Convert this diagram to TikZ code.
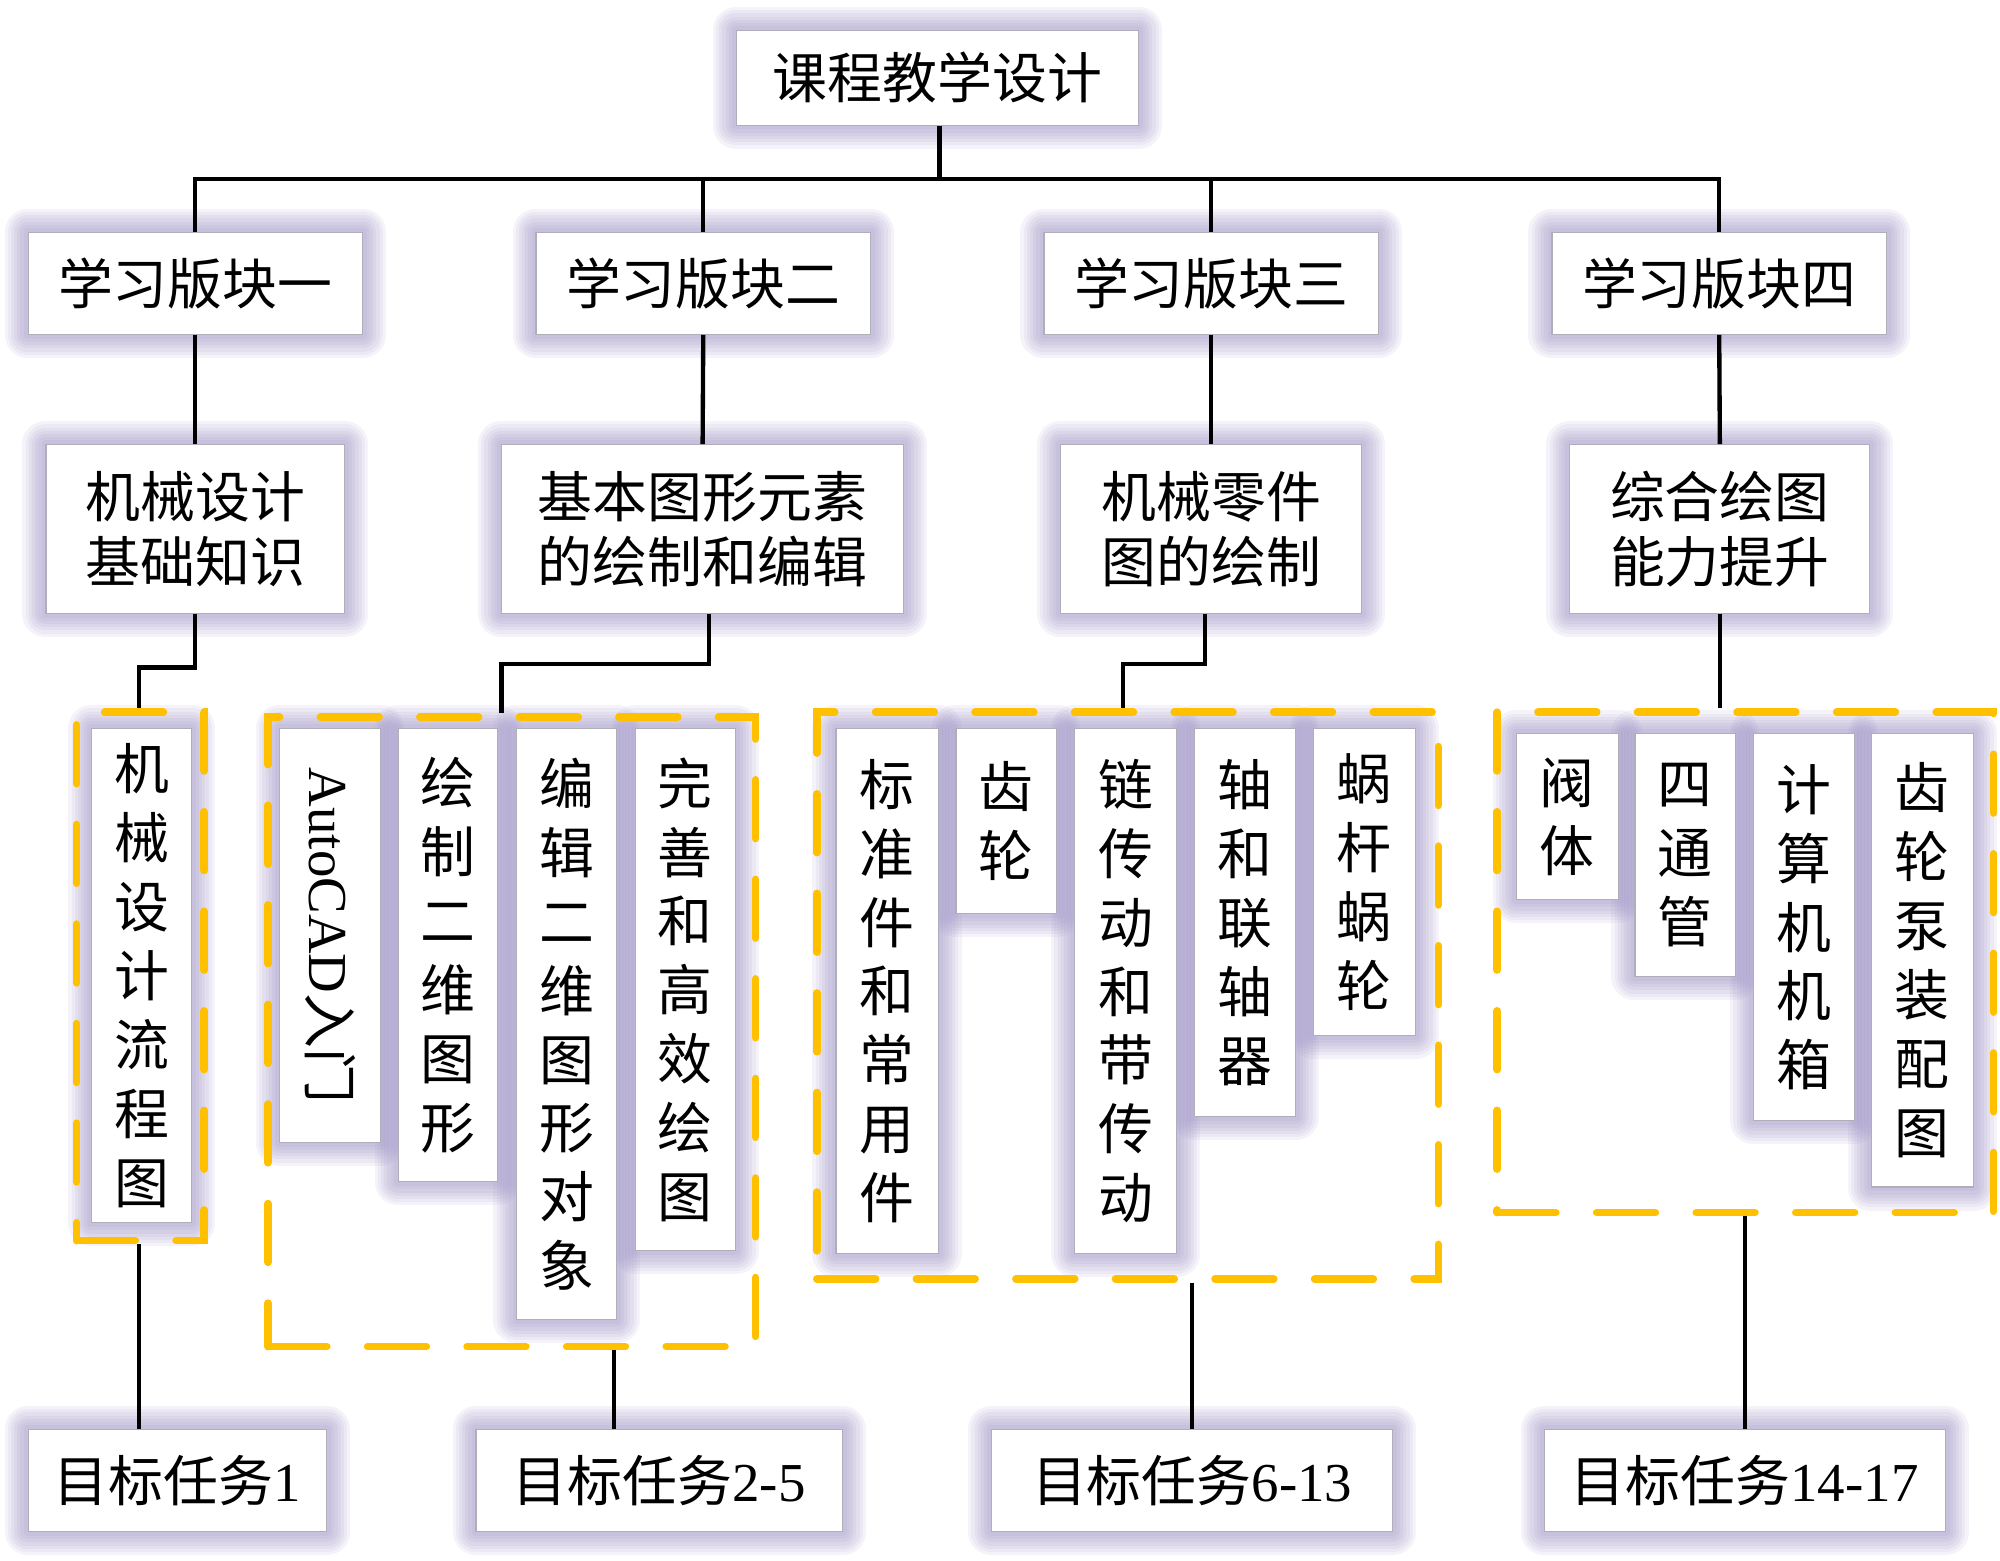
\documentclass[tikz,border=0pt]{standalone}
\usepackage{fontspec}
\setmainfont{Liberation Serif}
\newfontfamily\cjk{Noto Sans CJK SC}
\usetikzlibrary{calc}
\pgfdeclarelayer{glowlayer}
\pgfsetlayers{glowlayer,main}
\definecolor{gold}{RGB}{255,192,0}
\definecolor{glowc}{RGB}{140,126,186}
\definecolor{boxborder}{RGB}{175,175,185}
\tikzset{
  box/.style={draw=boxborder, fill=white, line width=0.9pt, inner sep=0pt, align=center,
    font=\fontsize{43}{51}\selectfont\cjk},
  vbox/.style={box, font=\fontsize{43}{54}\selectfont\cjk},
  gbox/.style={draw=gold, line width=6pt, dash pattern=on 46pt off 32pt, line cap=round, inner sep=0pt},
  conn/.style={draw=black, line width=3.4pt},
  glay/.style={draw=glowc, line join=round, draw opacity=0.09, line width=#1},
  glow/.style={glay=6pt,
    preaction={glay=11pt}, preaction={glay=16pt}, preaction={glay=21pt},
    preaction={glay=26pt}, preaction={glay=31pt}, preaction={glay=36pt}},
}
\begin{document}
\begin{tikzpicture}[x=1pt,y=-1pt]
\useasboundingbox (0,0) rectangle (1567,1223);
% dashed groups
\node[gbox, minimum width=100pt, minimum height=414pt] (g1) at (110,765) {};
\node[gbox, minimum width=382pt, minimum height=493pt] (g2) at (401,808.5) {};
\node[gbox, minimum width=487pt, minimum height=444pt] (g3) at (883.5,780) {};
\node[gbox, minimum width=389pt, minimum height=392pt] (g4) at (1367.5,754) {};
% top
\node[box, minimum width=315pt, minimum height=74pt] (top) at (734.5,61) {课程教学设计};
% level 1
\node[box, minimum width=262pt, minimum height=80pt] (a1) at (153,222) {学习版块一};
\node[box, minimum width=262pt, minimum height=80pt] (a2) at (551,222) {学习版块二};
\node[box, minimum width=262pt, minimum height=80pt] (a3) at (949,222) {学习版块三};
\node[box, minimum width=262pt, minimum height=80pt] (a4) at (1347,222) {学习版块四};
% level 2
\node[box, minimum width=234pt, minimum height=132pt] (m1) at (153,414.5) {机械设计\\基础知识};
\node[box, minimum width=315pt, minimum height=132pt] (m2) at (550.5,414.5) {基本图形元素\\的绘制和编辑};
\node[box, minimum width=236pt, minimum height=132pt] (m3) at (949,414.5) {机械零件\\图的绘制};
\node[box, minimum width=235pt, minimum height=132pt] (m4) at (1347.5,414.5) {综合绘图\\能力提升};
% level 3
\node[vbox, minimum width=78pt, minimum height=387pt] (b11) at (111,764.5) {机\\械\\设\\计\\流\\程\\图};
\node[box, rotate=-90, minimum width=324pt, minimum height=79pt, font=\fontsize{43}{54}\selectfont] (b21) at (258.5,733) {AutoCAD{\cjk 入门}};
\node[vbox, minimum width=78pt, minimum height=355pt] (b22) at (351,748.5) {绘\\制\\二\\维\\图\\形};
\node[vbox, minimum width=78pt, minimum height=463pt] (b23) at (444,802.5) {编\\辑\\二\\维\\图\\形\\对\\象};
\node[vbox, minimum width=78pt, minimum height=409pt] (b24) at (537,775.5) {完\\善\\和\\高\\效\\绘\\图};
\node[vbox, minimum width=80pt, minimum height=411pt] (b31) at (695,776.5) {标\\准\\件\\和\\常\\用\\件};
\node[vbox, minimum width=79pt, minimum height=145pt] (b32) at (788.5,643.5) {齿\\轮};
\node[vbox, minimum width=80pt, minimum height=411pt] (b33) at (882,776.5) {链\\传\\动\\和\\带\\传\\动};
\node[vbox, minimum width=79pt, minimum height=304pt] (b34) at (975.5,723) {轴\\和\\联\\轴\\器};
\node[vbox, minimum width=80pt, minimum height=240pt] (b35) at (1069,691) {蜗\\杆\\蜗\\轮};
\node[vbox, minimum width=80pt, minimum height=130pt] (b41) at (1228,640) {阀\\体};
\node[vbox, minimum width=79pt, minimum height=190pt] (b42) at (1320.5,670) {四\\通\\管};
\node[vbox, minimum width=79pt, minimum height=303pt] (b43) at (1413.5,726.5) {计\\算\\机\\机\\箱};
\node[vbox, minimum width=80pt, minimum height=355pt] (b44) at (1506,752.5) {齿\\轮\\泵\\装\\配\\图};
% targets
\node[box, minimum width=234pt, minimum height=80pt, font=\fontsize{43}{51}\selectfont] (t1) at (139,1160) {{\cjk 目标任务}1};
\node[box, minimum width=287pt, minimum height=80pt, font=\fontsize{43}{51}\selectfont] (t2) at (516.5,1160) {{\cjk 目标任务}2-5};
\node[box, minimum width=314pt, minimum height=80pt, font=\fontsize{43}{51}\selectfont] (t3) at (934,1160) {{\cjk 目标任务}6-13};
\node[box, minimum width=314pt, minimum height=80pt, font=\fontsize{43}{51}\selectfont] (t4) at (1367,1160) {{\cjk 目标任务}14-17};
% glows
\begin{pgfonlayer}{glowlayer}
\foreach \n in {top,a1,a2,a3,a4,m1,m2,m3,m4,b11,b21,b22,b23,b24,b31,b32,b33,b34,b35,b41,b42,b43,b44,t1,t2,t3,t4}
  \draw[glow] (\n.south west) rectangle (\n.north east);
\end{pgfonlayer}
% connectors
\coordinate (hb) at (736,140);
\draw[conn] (top.south -| hb) -- (hb);
\draw[conn] (a1.north) |- (hb) -| (a4.north);
\draw[conn] (a2.north) -- (a2.north |- hb);
\draw[conn] (a3.north) -- (a3.north |- hb);
\foreach \i in {1,2,3,4} \draw[conn] (a\i.south) -- (m\i.north);
\coordinate (j1) at (109,523);
\coordinate (j2) at (393,520);
\coordinate (j3) at (880,520);
\draw[conn] (m1.south) |- (j1) -- (j1 |- g1.north);
\draw[conn] ([xshift=5pt]m2.south) |- (j2) -- (j2 |- g2.north);
\draw[conn] ([xshift=-5pt]m3.south) |- (j3) -- (j3 |- g3.north);
\draw[conn] (m4.south) -- (m4.south |- g4.north);
\coordinate (k1) at (109,1100);
\coordinate (k2) at (481,1100);
\draw[conn] (k1 |- g1.south) -- (k1 |- t1.north);
\draw[conn] (k2 |- g2.south) -- (k2 |- t2.north);
\draw[conn] (t3.north |- g3.south) -- (t3.north);
\draw[conn] (t4.north |- g4.south) -- (t4.north);
\end{tikzpicture}
\end{document}
